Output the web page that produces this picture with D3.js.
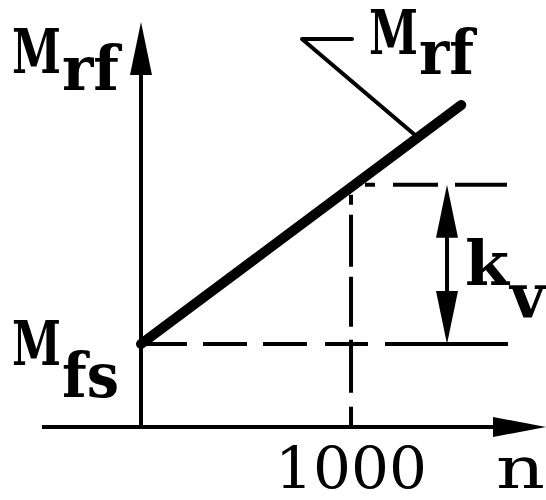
<!DOCTYPE html>
<html><head><meta charset="utf-8">
<script src="https://cdn.jsdelivr.net/npm/d3@7"></script>
<style>body{margin:0;background:#fff}svg{display:block}</style>
</head><body><div id="c"></div>
<script>
// Data (schematic: friction moment vs speed)
const speedN = [0, 1525];          // n values at ends of the M_rf line
const momentM = [1.0, 3.88];       // M_rf values (relative units) at those speeds
const refSpeed = [1000];           // reference speed tick
const tickLabels = ["1000"];
const levelMfs = 1.0;              // M_fs level
const levelAt1000 = 2.92;          // M_rf at n = 1000

const W = 546, H = 500;
const svg = d3.select("#c").append("svg").attr("width", W).attr("height", H);

const x = d3.scaleLinear().domain([0, 1000]).range([141, 351]);
const y = d3.scaleLinear().domain([0, 1]).range([427, 344]);

const FONT = "'DejaVu Serif', serif";

function arrowHead(tipX, tipY, dir, len, halfW) {
  let pts;
  if (dir === "up") pts = [[tipX, tipY], [tipX - halfW, tipY + len], [tipX + halfW, tipY + len]];
  else if (dir === "down") pts = [[tipX, tipY], [tipX - halfW, tipY - len], [tipX + halfW, tipY - len]];
  else pts = [[tipX, tipY], [tipX - len, tipY - halfW], [tipX - len, tipY + halfW]];
  svg.append("path").attr("d", d3.line()(pts) + "Z").attr("fill", "#000");
}

// axes
svg.append("line").attr("x1", 42).attr("x2", 500).attr("y1", y(0)).attr("y2", y(0))
  .attr("stroke", "#000").attr("stroke-width", 4);
arrowHead(546, y(0), "right", 53, 10);
svg.append("line").attr("x1", x(0)).attr("x2", x(0)).attr("y1", y(0) + 2).attr("y2", 70)
  .attr("stroke", "#000").attr("stroke-width", 4);
arrowHead(x(0), 22, "up", 53, 11);

// dashed guides
svg.append("line").attr("x1", x(0)).attr("x2", 508).attr("y1", y(levelMfs)).attr("y2", y(levelMfs))
  .attr("stroke", "#000").attr("stroke-width", 4)
  .attr("stroke-dasharray", "46,16,44,16,44,18,43,17,130,400");
svg.append("line").attr("x1", x(refSpeed[0])).attr("x2", 507).attr("y1", y(levelAt1000)).attr("y2", y(levelAt1000))
  .attr("stroke", "#000").attr("stroke-width", 4)
  .attr("stroke-dasharray", "0,14,10,18,45,17,60,400");
svg.append("line").attr("x1", x(refSpeed[0])).attr("x2", x(refSpeed[0])).attr("y1", y(levelAt1000)).attr("y2", y(0))
  .attr("stroke", "#000").attr("stroke-width", 4)
  .attr("stroke-dasharray", "0,10,10,10,52,10,50,13,53,14,40,400");

// main thick line
const lineData = speedN.map((n, i) => [n, momentM[i]]);
svg.append("path").datum(lineData)
  .attr("d", d3.line().x(d => x(d[0])).y(d => y(d[1])))
  .attr("stroke", "#000").attr("stroke-width", 10).attr("stroke-linecap", "round").attr("fill", "none");

// k_v double arrow
const kx = 447;
svg.append("line").attr("x1", kx).attr("x2", kx).attr("y1", y(levelAt1000) + 40).attr("y2", y(levelMfs) - 40)
  .attr("stroke", "#000").attr("stroke-width", 4);
arrowHead(kx, y(levelAt1000), "up", 53, 11);
arrowHead(kx, y(levelMfs), "down", 53, 11);

// leader line
svg.append("path").attr("d", "M352,39 L302,39 L415,135")
  .attr("stroke", "#000").attr("stroke-width", 4).attr("fill", "none").attr("stroke-linecap", "round").attr("stroke-linejoin", "round");

// labels (main symbol + lowered subscript in one text element)
function label(xp, yp, main, mainLen, sub, subLen, dy) {
  const t = svg.append("text")
    .attr("font-family", FONT).attr("font-weight", "bold").attr("font-size", 62).attr("fill", "#000");
  t.append("tspan").attr("x", xp).attr("y", yp)
    .attr("textLength", mainLen).attr("lengthAdjust", "spacingAndGlyphs").text(main);
  t.append("tspan").attr("x", xp + mainLen + 1).attr("y", yp + dy)
    .attr("textLength", subLen).attr("lengthAdjust", "spacingAndGlyphs").text(sub);
}
label(12, 73, "M", 49, "rf", 57, 17);
label(369, 54, "M", 49, "rf", 55, 20);
label(12, 365, "M", 49, "fs", 57, 32);
label(465, 285, "k", 44, "v", 35, 32);

function txt(xp, yp, s, len, size) {
  return svg.append("text").attr("x", xp).attr("y", yp)
    .attr("font-family", FONT).attr("font-size", size)
    .attr("textLength", len).attr("lengthAdjust", "spacingAndGlyphs")
    .attr("fill", "#000").text(s);
}
txt(x(refSpeed[0]) - 76, 488, tickLabels[0], 152, 58);
txt(496, 488, "n", 49, 58);
</script></body></html>
